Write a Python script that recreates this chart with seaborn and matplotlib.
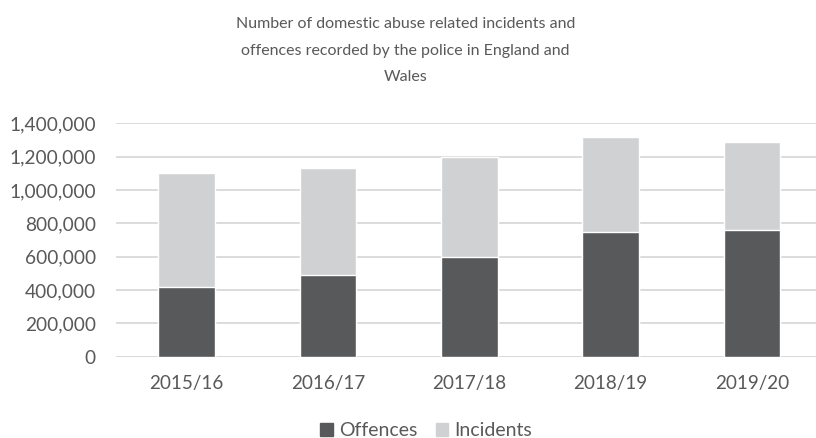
import matplotlib
matplotlib.use("Agg")
import matplotlib.pyplot as plt
from matplotlib.ticker import FuncFormatter, MultipleLocator
from matplotlib.patches import Patch
import numpy as np
import pandas as pd
import seaborn as sns

years = ["2015/16", "2016/17", "2017/18", "2018/19", "2019/20"]
offences = [421000, 488000, 599000, 746000, 759000]
incidents = [680000, 645000, 599000, 570000, 529000]

TEXT = "#595959"
DARK = "#58595B"
LIGHT = "#D0D1D3"
GRID = "#D9D9D9"

sns.set_theme(style="white")
plt.rcParams["font.family"] = ["Lato", "DejaVu Sans"]

df = pd.DataFrame({"year": years, "Offences": offences, "Incidents": incidents})
df["total"] = df["Offences"] + df["Incidents"]

fig = plt.figure(figsize=(8.16, 4.38), dpi=100)
ax = fig.add_axes([116 / 816, 81.3 / 438, 706.5 / 816, 233.4 / 438])

# stacked bars: full height (offences + incidents) underneath, offences on top
sns.barplot(data=df, x="year", y="total", color=LIGHT, width=0.4, saturation=1,
            ax=ax, zorder=3)
sns.barplot(data=df, x="year", y="Offences", color=DARK, width=0.4, saturation=1,
            ax=ax, zorder=4)

ax.set_ylim(0, 1400000)
ax.set_xlim(-0.5, len(years) - 0.5)
ax.yaxis.set_major_locator(MultipleLocator(200000))
ax.yaxis.set_major_formatter(FuncFormatter(lambda v, p: f"{int(v):,}"))
ax.grid(axis="y", color=GRID, linewidth=1.3, zorder=0)
ax.set_axisbelow(True)
for s in ax.spines.values():
    s.set_visible(False)
ax.axhline(0, color=GRID, linewidth=1.3, zorder=2)
ax.set_xlabel("")
ax.set_ylabel("")
ax.tick_params(axis="y", length=0, labelsize=13.8, colors=TEXT, pad=14.5)
ax.tick_params(axis="x", length=0, labelsize=13.6, colors=TEXT, pad=13)

title_lines = ["Number of domestic abuse related incidents and",
               "offences recorded by the police in England and",
               "Wales"]
for i, line in enumerate(title_lines):
    fig.text(0.497, 1 - (28 + 26.5 * i) / 438, line, ha="center", va="baseline",
             fontsize=11.5, color=TEXT)

handles = [Patch(color=DARK, label="Offences"), Patch(color=LIGHT, label="Incidents")]
fig.legend(handles=handles, loc="center", bbox_to_anchor=(0.522, 1 - 431 / 438),
           ncol=2, frameon=False, fontsize=14, labelcolor=TEXT,
           handlelength=0.65, handleheight=0.65, handletextpad=0.3,
           columnspacing=0.95)

fig.savefig("out.png", dpi=100)
